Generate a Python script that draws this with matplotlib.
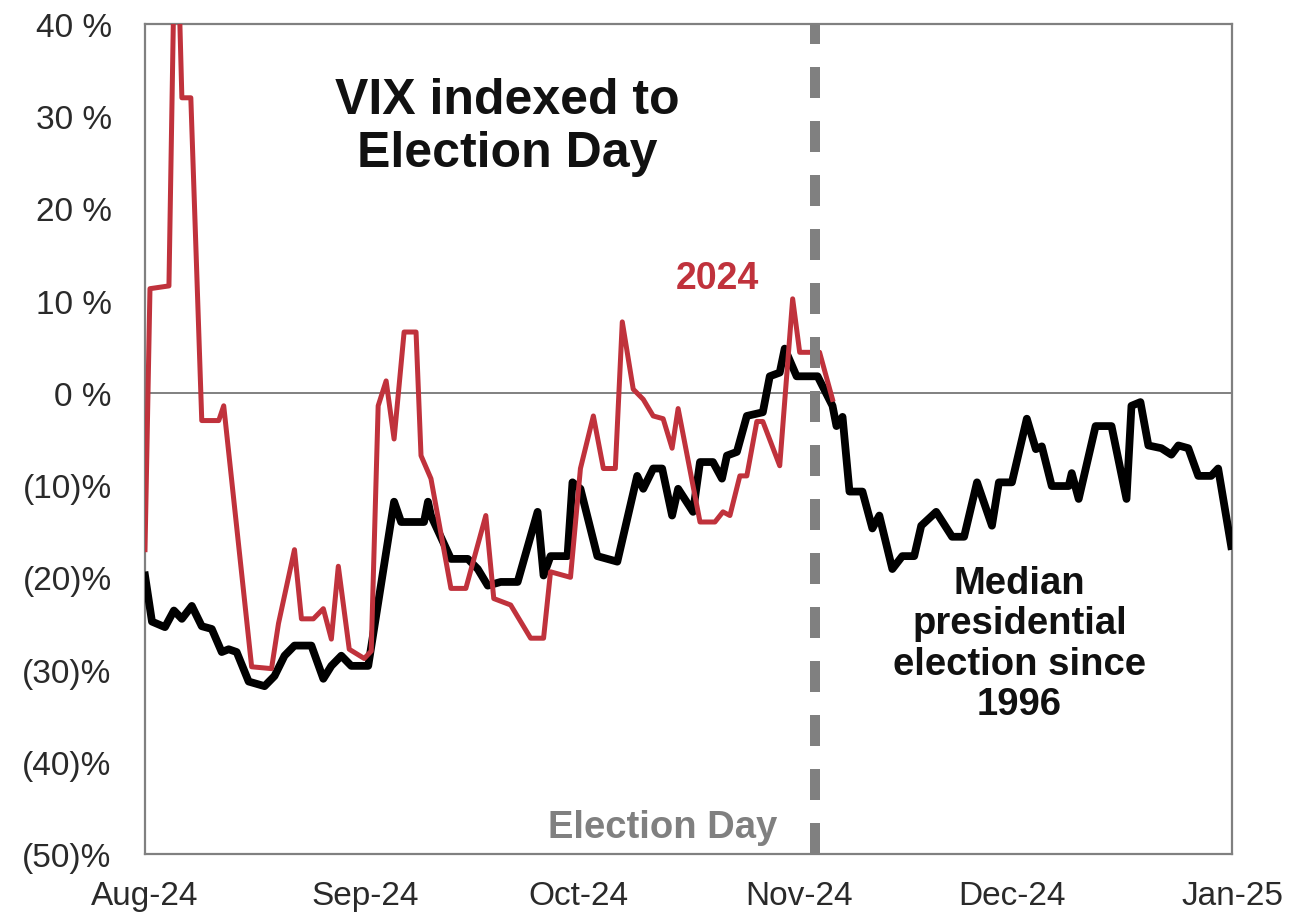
import matplotlib
matplotlib.use("Agg")
import matplotlib.pyplot as plt

plt.rcParams['font.family'] = ['Liberation Sans', 'DejaVu Sans']

# x values: days since 1 Aug 2024
red_days = [0.0, 0.70, 3.37, 4.07, 4.77, 5.19, 6.45, 7.99, 10.38, 11.08, 15.01, 17.81,
            18.79, 21.04, 22.02, 23.70, 25.10, 26.23, 27.21, 28.75, 30.86, 31.84,
            32.82, 33.94, 35.06, 36.47, 38.15, 38.85, 40.25, 43.06, 45.16, 47.97,
            49.09, 51.47, 54.28, 56.10, 57.08, 59.89, 61.29, 63.11, 64.52, 66.20,
            67.18, 68.72, 70.13, 71.53, 72.93, 74.19, 75.04, 78.12, 80.22, 81.35,
            82.33, 83.73, 84.71, 86.12, 86.96, 89.34, 91.16, 92.15, 94.95, 96.77]
red_vals = [-17, 11.3, 11.6, 44, 44, 32, 32, -3, -3, -1.4, -29.7, -29.9,
            -25, -17, -24.5, -24.5, -23.4, -26.7, -18.8, -27.8, -28.8, -28,
            -1.4, 1.3, -5, 6.6, 6.6, -6.8, -9.3, -21.2, -21.2, -13.3,
            -22.3, -23, -26.6, -26.6, -19.4, -20, -8.2, -2.5, -8.2, -8.2,
            7.7, 0.4, -0.7, -2.5, -2.8, -6, -1.7, -14, -14, -12.9,
            -13.3, -9, -9, -3.1, -3.1, -7.9, 10.2, 4.4, 4.4, -0.7]

med_days = [0.0, 0.98, 2.81, 4.07, 5.19, 6.59, 7.99, 9.40, 10.80, 11.78, 12.90, 14.59,
            16.83, 18.23, 19.64, 21.04, 23.42, 25.10, 26.23, 27.63, 29.03, 31.42,
            35.06, 36.05, 39.27, 39.83, 40.25, 43.06, 45.44, 46.84, 48.25, 50.07,
            52.45, 55.26, 56.10, 57.08, 59.47, 60.17, 61.29, 63.67, 66.48, 69.28,
            70.13, 71.53, 72.79, 74.19, 75.04, 77.14, 78.12, 79.94, 81.21, 81.91,
            83.31, 84.71, 86.96, 87.94, 89.34, 90.04, 91.72, 94.67, 96.77, 97.33,
            98.18, 99.16, 100.98, 102.38, 103.36, 105.19, 106.59, 108.27, 109.26,
            111.36, 113.60, 115.29, 117.11, 119.21, 120.19, 122.02, 124.12, 125.39,
            126.23, 127.63, 130.01, 130.44, 131.42, 133.80, 136.04, 138.15, 138.85,
            140.11, 141.23, 143.06, 144.47, 145.45, 146.85, 148.25, 150.07, 151.05,
            152.88]
med_vals = [-19.8, -24.8, -25.4, -23.6, -24.5, -23.1, -25.3, -25.6, -28.1, -27.8, -28.1, -31.3,
            -31.8, -30.7, -28.5, -27.4, -27.4, -31, -29.6, -28.5, -29.6, -29.6,
            -11.8, -14, -14, -11.8, -13.3, -18, -18, -19.1, -20.9, -20.5,
            -20.5, -12.9, -19.8, -17.7, -17.7, -9.7, -10.4, -17.7, -18.3, -9,
            -10.4, -8.2, -8.2, -13.3, -10.4, -12.9, -7.5, -7.5, -9.3, -6.8,
            -6.4, -2.5, -2.1, 1.8, 2.2, 4.8, 1.8, 1.8, -1.4, -3.6,
            -2.6, -10.7, -10.7, -14.7, -13.3, -19.1, -17.7, -17.7, -14.4,
            -12.9, -15.6, -15.6, -9.7, -14.4, -9.7, -9.7, -2.8, -6.1,
            -5.8, -10.1, -10.1, -8.7, -11.5, -3.6, -3.6, -11.5, -1.4,
            -1, -5.7, -6, -6.7, -5.7, -6, -9, -9, -8.2,
            -16.6]

month_days = [0, 31, 61, 92, 122, 153]
month_labels = ['Aug-24', 'Sep-24', 'Oct-24', 'Nov-24', 'Dec-24', 'Jan-25']
y_ticks = [40, 30, 20, 10, 0, -10, -20, -30, -40, -50]
y_labels = ['40 %', '30 %', '20 %', '10 %', '0 %', '(10)%', '(20)%', '(30)%', '(40)%', '(50)%']
election_day = 94.25

RED = '#c0323c'
GRAY = '#808080'

fig = plt.figure(figsize=(12.94, 9.2), dpi=100)
ax = fig.add_axes([145/1294, 1-855/920, 1087/1294, 830/920])

ax.axhline(0, color=GRAY, lw=1.4, zorder=1)
ax.plot(med_days, med_vals, color='black', lw=5.6, solid_joinstyle='round', zorder=3)
ax.plot(red_days, red_vals, color=RED, lw=3.6, solid_joinstyle='round', zorder=4)
ax.axvline(election_day, color=GRAY, lw=7.2, dashes=(3.1, 2.3), zorder=5)

ax.set_xlim(0, 153)
ax.set_ylim(-50, 40)
ax.set_xticks(month_days)
ax.set_xticklabels(month_labels)
ax.set_yticks(y_ticks)
ax.set_yticklabels(y_labels)
ax.tick_params(length=0, labelsize=24, colors='#2a2a2a')
ax.tick_params(axis='y', pad=24)
ax.tick_params(axis='x', pad=19)
for s in ax.spines.values():
    s.set_color(GRAY)
    s.set_linewidth(1.6)

ax.text(51, 28.85, 'VIX indexed to\nElection Day', ha='center', va='center',
        fontsize=36, fontweight='bold', color='#111111', linespacing=1.2, zorder=6)
ax.text(80.6, 12.5, '2024', ha='center', va='center', fontsize=27,
        fontweight='bold', color=RED, zorder=6)
ax.text(123.1, -27.2, 'Median\npresidential\nelection since\n1996', ha='center', va='center',
        fontsize=27.5, fontweight='bold', color='#111111', linespacing=1.16, zorder=6)
ax.text(72.9, -47.1, 'Election Day', ha='center', va='center', fontsize=27.5,
        fontweight='bold', color=GRAY, zorder=6)

fig.savefig('out.png', dpi=100, facecolor='white')
